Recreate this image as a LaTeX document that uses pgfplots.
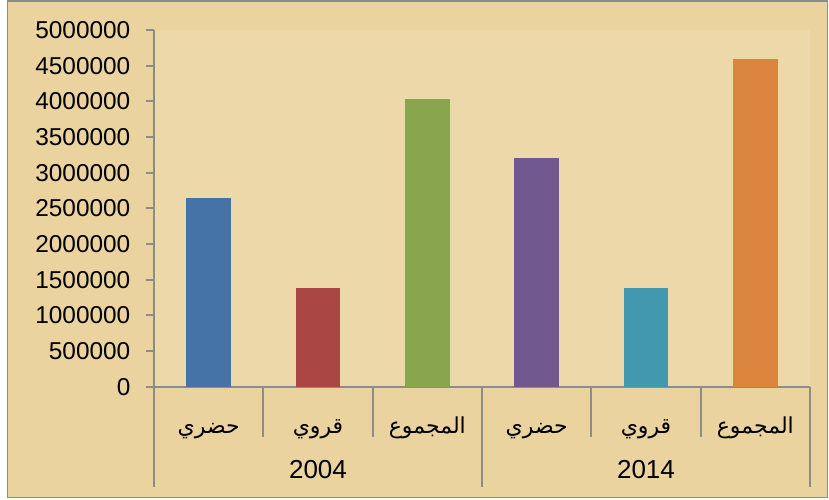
\documentclass[border=0pt]{standalone}
\usepackage{fontspec}
\usepackage{pgfplots}
\pgfplotsset{compat=1.18}
\setmainfont{Liberation Sans}
\newfontfamily\arabicfont[Script=Arabic]{DejaVu Sans}
\TeXXeTstate=1

\definecolor{papyrus}{HTML}{EAD39F}
\definecolor{papyrusin}{HTML}{ECD8A8}
\definecolor{axisgray}{HTML}{8C8C8C}
\definecolor{cA}{HTML}{4572A7}
\definecolor{cB}{HTML}{AA4643}
\definecolor{cC}{HTML}{89A54E}
\definecolor{cD}{HTML}{71588F}
\definecolor{cE}{HTML}{4198AF}
\definecolor{cF}{HTML}{DB843D}

\newcommand{\ar}[1]{{\fontsize{11}{13}\selectfont\arabicfont\beginR #1\endR}}

\begin{document}
\begin{tikzpicture}
\path[use as bounding box, fill=white] (-77pt,-56.15pt) rectangle (337.5pt,193.35pt);
\filldraw[fill=papyrus, draw=axisgray, line width=0.8pt] (-73.25pt,-55.4pt) rectangle (336.75pt,192.85pt);
\begin{axis}[
  at={(0pt,0pt)}, anchor=south west,
  scale only axis, width=328pt, height=178.35pt,
  clip=false,
  axis background/.style={fill=papyrusin},
  xmin=-0.5, xmax=5.5, ymin=0, ymax=5000000,
  axis x line*=bottom, axis y line*=left,
  axis line style={axisgray, line width=0.9pt},
  ytick={0,500000,1000000,1500000,2000000,2500000,3000000,3500000,4000000,4500000,5000000},
  scaled y ticks=false,
  yticklabel style={xshift=-4.5pt, /pgf/number format/.cd, fixed, precision=0, 1000 sep={}, assume math mode=true},
  tick label style={font=\fontsize{12.2}{14}\selectfont, text=black},
  tick align=outside,
  major tick length=3.8pt,
  y tick style={axisgray, line width=0.9pt},
  xtick={0,1,2,3,4,5},
  xticklabels={\ar{حضري},\ar{قروي},\ar{المجموع},\ar{حضري},\ar{قروي},\ar{المجموع}},
  major x tick style={draw=none},
  xticklabel style={anchor=base, yshift=-19.7pt},
  minor xtick={-0.5,0.5,1.5,2.5,3.5,4.5,5.5},
  minor x tick style={axisgray, line width=0.9pt},
  minor tick length=25pt,
  extra x ticks={-0.5,2.5,5.5},
  extra x tick labels={},
  extra x tick style={major x tick style={draw=axisgray, line width=0.9pt}, major tick length=50pt},
]
\addplot[ybar, bar shift=0pt, bar width=0.41, fill=cA, draw=none] coordinates {(0,2645000)};
\addplot[ybar, bar shift=0pt, bar width=0.41, fill=cB, draw=none] coordinates {(1,1388000)};
\addplot[ybar, bar shift=0pt, bar width=0.41, fill=cC, draw=none] coordinates {(2,4033000)};
\addplot[ybar, bar shift=0pt, bar width=0.41, fill=cD, draw=none] coordinates {(3,3206000)};
\addplot[ybar, bar shift=0pt, bar width=0.41, fill=cE, draw=none] coordinates {(4,1388000)};
\addplot[ybar, bar shift=0pt, bar width=0.41, fill=cF, draw=none] coordinates {(5,4594000)};
\node[anchor=base, font=\fontsize{13}{15}\selectfont, yshift=-45.7pt] at (axis cs:1,0) {2004};
\node[anchor=base, font=\fontsize{13}{15}\selectfont, yshift=-45.7pt] at (axis cs:4,0) {2014};
\end{axis}
\end{tikzpicture}
\end{document}
